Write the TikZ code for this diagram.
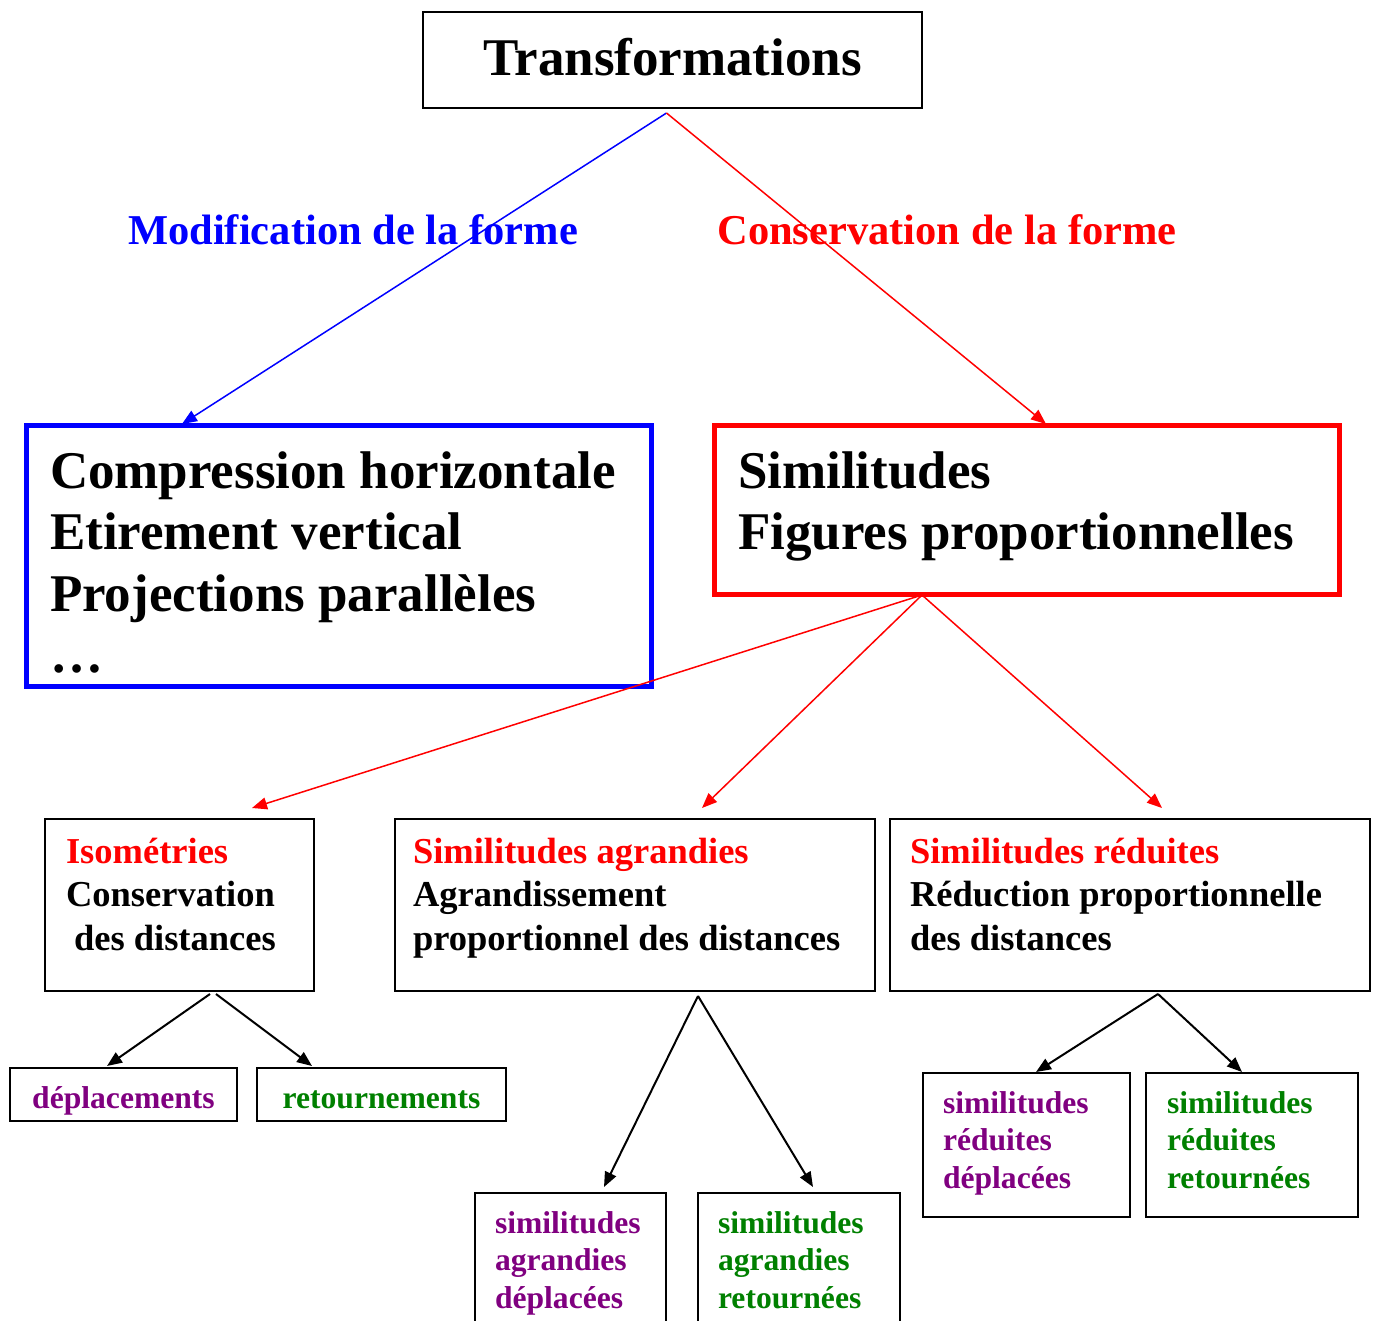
\documentclass[tikz,border=0pt]{standalone}
\usepackage{fontspec}
\setmainfont{Liberation Serif}
\usetikzlibrary{arrows.meta, calc, positioning}
\definecolor{violette}{RGB}{128,0,128}
\definecolor{vert}{RGB}{0,128,0}
\tikzset{
    grand/.style={font=\fontsize{53}{61.5}\selectfont\bfseries},
    moyen/.style={font=\fontsize{36.5}{43.5}\selectfont\bfseries},
    petit/.style={font=\fontsize{31.6}{37.5}\selectfont\bfseries},
    titre/.style={font=\fontsize{42.5}{50}\selectfont\bfseries},
    boite/.style={draw, line width=2pt, anchor=north west, align=flush left, inner ysep=0pt, outer sep=0pt},
    fleche/.style={-{Triangle[length=15pt,width=12pt]}, line width=1.5pt},
}
\begin{document}
\begin{tikzpicture}[x=1pt, y=-1pt]
    \useasboundingbox (0,0) rectangle (1378,1321);
    % sommet
    \node[draw, line width=2pt, grand, minimum width=499pt, minimum height=96pt, inner sep=0pt, outer sep=0pt, text depth=6pt] (transfo) at (672.5,60) {Transformations};
    \node[titre, text=blue] (modiflab) at (353,229.5) {Modification de la forme};
    \node[titre, text=red] (conslab) at (947,230) {Conservation de la forme};
    % deuxieme niveau
    \node[boite, draw=blue, line width=5pt, grand, inner xsep=24pt, text width=577pt, text height=63pt, text depth=198pt] (modif) at (26,425)
        {Compression horizontale\\Etirement vertical\\Projections parallèles\\\ldots};
    \node[boite, draw=red, line width=5pt, grand, inner xsep=24pt, text width=577pt, text height=63pt, text depth=106pt] (simil) at (714,425)
        {Similitudes\\Figures proportionnelles};
    % troisieme niveau
    \node[boite, moyen, inner xsep=21pt, text width=227pt, text height=44pt, text depth=128pt] (isom) at (45,819)
        {\textcolor{red}{Isométries}\\Conservation\\\hspace*{8pt}des distances};
    \node[boite, moyen, inner xsep=18pt, text width=444pt, text height=44pt, text depth=128pt] (agr) at (395,819)
        {\textcolor{red}{Similitudes agrandies}\\Agrandissement\\\mbox{proportionnel des distances}};
    \node[boite, moyen, inner xsep=20pt, text width=440pt, text height=44pt, text depth=128pt] (red) at (890,819)
        {\textcolor{red}{Similitudes réduites}\\Réduction proportionnelle\\des distances};
    % feuilles
    \node[boite, petit, align=center, inner xsep=0pt, text width=227pt, text height=40pt, text depth=13pt, text=violette] (dep) at (10,1068) {déplacements};
    \node[boite, petit, align=center, inner xsep=0pt, text width=249pt, text height=40pt, text depth=13pt, text=vert] (ret) at (257,1068) {retournements};
    \node[boite, petit, inner xsep=20pt, text width=151pt, text height=40pt, text depth=110pt, text=violette] (agrdep) at (475,1193)
        {similitudes\\agrandies\\déplacées};
    \node[boite, petit, inner xsep=20pt, text width=162pt, text height=40pt, text depth=110pt, text=vert] (agrret) at (698,1193)
        {similitudes\\agrandies\\retournées};
    \node[boite, petit, inner xsep=20pt, text width=167pt, text height=40pt, text depth=104pt, text=violette] (reddep) at (923,1073)
        {similitudes\\réduites\\déplacées};
    \node[boite, petit, inner xsep=21pt, text width=170pt, text height=40pt, text depth=104pt, text=vert] (redret) at (1146,1073)
        {similitudes\\réduites\\retournées};
    % fleches
    \draw[fleche, blue] ([xshift=-6pt, yshift=-5pt]transfo.south) -- ([xshift=156pt, yshift=1pt]modif.north west);
    \draw[fleche, red] ([xshift=-6pt, yshift=-5pt]transfo.south) -- ([xshift=332pt, yshift=1pt]simil.north west);
    \draw[fleche, red] ([xshift=208pt, yshift=-1pt]simil.south west) -- ([xshift=207pt, yshift=11pt]isom.north west);
    \draw[fleche, red] ([xshift=208pt, yshift=-1pt]simil.south west) -- ([xshift=307pt, yshift=11pt]agr.north west);
    \draw[fleche, red] ([xshift=208pt, yshift=-1pt]simil.south west) -- ([xshift=272pt, yshift=11pt]red.north west);
    \draw[fleche, line width=2pt] ([xshift=165pt, yshift=-3pt]isom.south west) -- ([xshift=97pt, yshift=2pt]dep.north west);
    \draw[fleche, line width=2pt] ([xshift=171pt, yshift=-3pt]isom.south west) -- ([xshift=55pt, yshift=2pt]ret.north west);
    \draw[fleche, line width=2pt] ([xshift=303pt, yshift=-5pt]agr.south west) -- ([xshift=129pt, yshift=6pt]agrdep.north west);
    \draw[fleche, line width=2pt] ([xshift=303pt, yshift=-5pt]agr.south west) -- ([xshift=115pt, yshift=6pt]agrret.north west);
    \draw[fleche, line width=2pt] ([xshift=268pt, yshift=-3pt]red.south west) -- ([xshift=113pt, yshift=1pt]reddep.north west);
    \draw[fleche, line width=2pt] ([xshift=268pt, yshift=-3pt]red.south west) -- ([xshift=96pt, yshift=1pt]redret.north west);
\end{tikzpicture}
\end{document}
